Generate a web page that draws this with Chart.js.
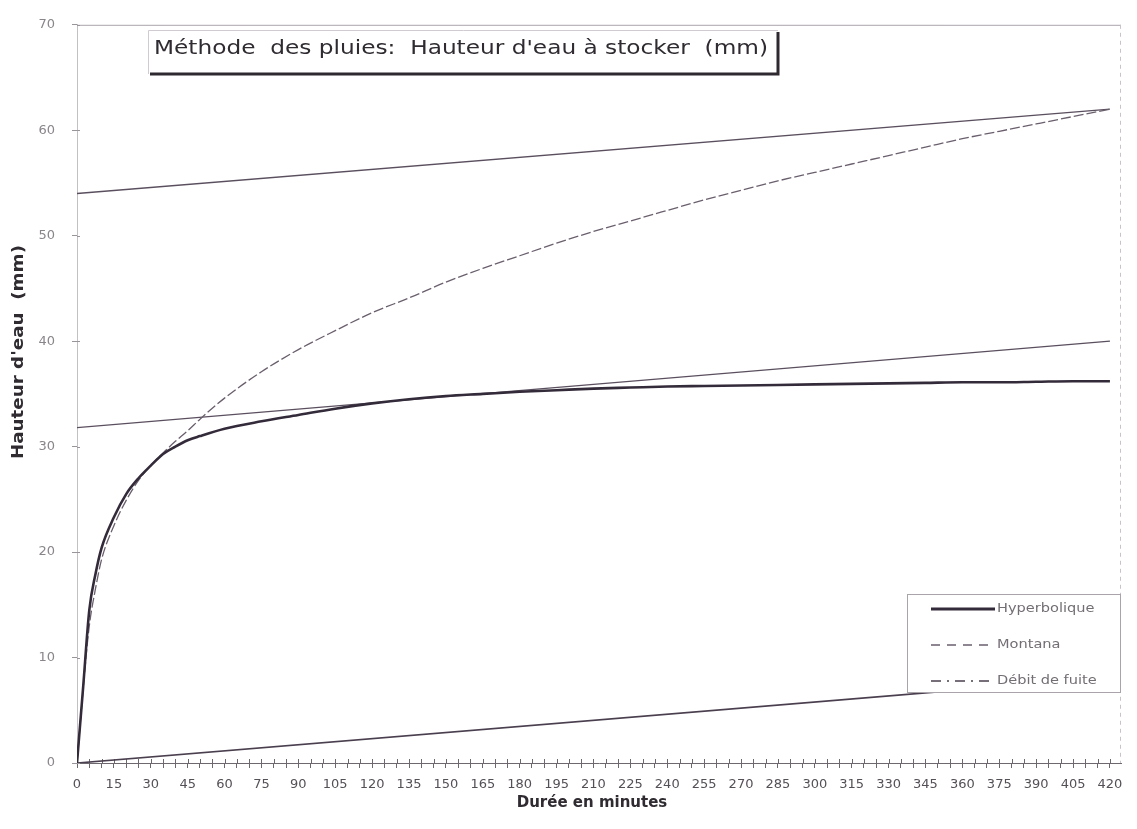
<!DOCTYPE html>
<html>
<head>
<meta charset="utf-8">
<script src="https://cdn.jsdelivr.net/npm/chart.js@4.4.1/dist/chart.umd.min.js"></script>
<style>
  html,body{margin:0;padding:0;background:#fff;}
  #wrap{width:1137px;height:829px;}
</style>
</head>
<body>
<div id="wrap"><canvas id="c" width="1137" height="829"></canvas></div>
<script>
// ---- data ----
const durations = [0,2.5,5,7.5,10,15,20,25,30,35,40,45,50,60,75,90,105,120,135,150,165,180,195,210,225,240,255,270,285,300,315,330,345,360,375,390,405,420];
const hyperbolique = [0,7.2,14.5,17.9,20.4,23.3,25.5,27.0,28.2,29.3,30.0,30.6,31.0,31.7,32.4,33.0,33.6,34.1,34.5,34.8,35.0,35.2,35.35,35.5,35.6,35.7,35.75,35.8,35.85,35.9,35.95,36.0,36.05,36.1,36.1,36.15,36.2,36.2];
const montana = [0,7.0,13.0,16.5,19.3,22.5,24.9,26.8,28.2,29.4,30.5,31.5,32.6,34.6,37.1,39.2,41.0,42.7,44.1,45.6,46.9,48.1,49.3,50.4,51.4,52.4,53.4,54.3,55.2,56.0,56.8,57.6,58.4,59.2,59.9,60.6,61.3,62.0];
const lineX = [0,420];
const debitFuite = [0,8.1];
const tangenteHaute = [54,62];
const tangenteBasse = [31.8,40.0];
const xTickLabels = [0,15,30,45,60,75,90,105,120,135,150,165,180,195,210,225,240,255,270,285,300,315,330,345,360,375,390,405,420];
const yTickLabels = [0,10,20,30,40,50,60,70];
const chartTitle = "Méthode  des pluies:  Hauteur d'eau à stocker  (mm)";
const xTitle = "Durée en minutes";
const yTitle = "Hauteur d'eau  (mm)";

const pts = (xs, ys) => xs.map((x,i)=>({x:x,y:ys[i]}));
const FONT = '"DejaVu Sans", sans-serif';

function fitText(ctx, text, x, y, width){
  const w = ctx.measureText(text).width;
  ctx.save();
  ctx.translate(x, y);
  ctx.scale(width / w, 1);
  ctx.fillText(text, 0, 0);
  ctx.restore();
}

const decor = {
  id:'decor',
  beforeDatasetsDraw(chart){
    const {ctx, chartArea:a} = chart;
    ctx.save();
    ctx.strokeStyle='#aaa4ab'; ctx.lineWidth=1;
    ctx.beginPath(); ctx.moveTo(a.left,a.top+0.5); ctx.lineTo(a.right,a.top+0.5); ctx.stroke();
    ctx.strokeStyle='#c8c3c9'; ctx.setLineDash([4,4]);
    ctx.beginPath(); ctx.moveTo(a.right-0.5,a.top); ctx.lineTo(a.right-0.5,a.bottom); ctx.stroke();
    ctx.setLineDash([]);
    // small tick marks above the x axis (crossing marks)
    const xs = chart.scales.x;
    ctx.strokeStyle='#6d676e'; ctx.lineWidth=1;
    xs.ticks.forEach(t=>{
      const px = Math.round(xs.getPixelForValue(t.value))+0.5;
      ctx.beginPath(); ctx.moveTo(px,a.bottom); ctx.lineTo(px,a.bottom-4); ctx.stroke();
    });
    const ys = chart.scales.y;
    ctx.strokeStyle='#9a959b';
    ys.ticks.forEach(t=>{
      const py = Math.round(ys.getPixelForValue(t.value))+0.5;
      ctx.beginPath(); ctx.moveTo(a.left,py); ctx.lineTo(a.left+3,py); ctx.stroke();
    });
    ctx.restore();
  },
  afterDatasetsDraw(chart){
    const {ctx} = chart;
    ctx.save();
    // title box
    const bx=148, by=30, bw=630, bh=44;
    ctx.fillStyle='#fff'; ctx.fillRect(bx,by,bw,bh);
    ctx.strokeStyle='#d0cbd0'; ctx.lineWidth=1;
    ctx.beginPath(); ctx.moveTo(bx+0.5,by+bh); ctx.lineTo(bx+0.5,by+0.5); ctx.lineTo(bx+bw,by+0.5); ctx.stroke();
    ctx.strokeStyle='#2e2830'; ctx.lineWidth=3;
    ctx.beginPath(); ctx.moveTo(bx+2,by+bh); ctx.lineTo(bx+bw,by+bh); ctx.lineTo(bx+bw,by+2); ctx.stroke();
    ctx.fillStyle='#2f2b31'; ctx.textBaseline='middle'; ctx.textAlign='left';
    ctx.font='20px '+FONT;
    fitText(ctx, chartTitle, bx+6, by+19, 614);
    // legend
    const lx=907, ly=594, lw=213, lh=98;
    ctx.fillStyle='#fff'; ctx.fillRect(lx,ly,lw,lh);
    ctx.strokeStyle='#a9a3aa'; ctx.lineWidth=1; ctx.setLineDash([]);
    ctx.strokeRect(lx+0.5,ly+0.5,lw,lh);
    const items = chart.data.datasets.filter(d=>d.legendDash);
    items.forEach((d,i)=>{
      const y = ly+15+i*36;
      ctx.strokeStyle=d.borderColor; ctx.lineWidth=d.legendWidth;
      ctx.setLineDash(d.legendDash);
      ctx.beginPath(); ctx.moveTo(lx+24,y); ctx.lineTo(lx+88,y); ctx.stroke();
      ctx.setLineDash([]);
      ctx.fillStyle='#736e74'; ctx.font='13px '+FONT; ctx.textBaseline='middle'; ctx.textAlign='left';
      const w = ctx.measureText(d.label).width;
      fitText(ctx, d.label, lx+90, y, w*1.12);
    });
    ctx.restore();
  },
  afterDraw(chart){
    const {ctx} = chart;
    ctx.save();
    ctx.fillStyle='#2f2b31'; ctx.font='bold 15px '+FONT; ctx.textAlign='center'; ctx.textBaseline='middle';
    ctx.fillText(xTitle, 592, 803);
    ctx.translate(19, 352); ctx.rotate(-Math.PI/2);
    ctx.font='bold 16px '+FONT; ctx.textAlign='left';
    fitText(ctx, yTitle, -107, 0, 214);
    ctx.restore();
  }
};

new Chart(document.getElementById('c'), {
  type:'line',
  data:{
    datasets:[
      {label:'Hyperbolique', data:pts(durations,hyperbolique), borderColor:'#342b3a', borderWidth:2.6, cubicInterpolationMode:'monotone', legendDash:[ ], legendWidth:3, order:1},
      {label:'Montana', data:pts(durations,montana), borderColor:'#6a5f6d', borderWidth:1.3, borderDash:[10,3], cubicInterpolationMode:'monotone', legendDash:[9,7], legendWidth:1.5, order:2},
      {label:'Débit de fuite', data:pts(lineX,debitFuite), borderColor:'#4a3f4e', borderWidth:1.7, legendDash:[10,6,2,6], legendWidth:1.5, order:3},
      {label:'tangente haute', data:pts(lineX,tangenteHaute), borderColor:'#5a4f5e', borderWidth:1.4, order:4},
      {label:'tangente basse', data:pts(lineX,tangenteBasse), borderColor:'#5a4f5e', borderWidth:1.3, order:5}
    ]
  },
  options:{
    responsive:false, animation:false,
    layout:{padding:{top:18,right:16,left:0,bottom:0}},
    elements:{point:{radius:0}, line:{fill:false}},
    plugins:{legend:{display:false}, tooltip:{enabled:false}, title:{display:false}},
    scales:{
      x:{type:'linear', min:0, max:424.5,
        afterFit(s){ s.height=66; },
        grid:{drawOnChartArea:false, tickLength:5, color:'#6d676e'},
        border:{color:'#6d676e', width:1},
        ticks:{stepSize:5, includeBounds:false, autoSkip:false, maxRotation:0, padding:9, color:'#555057', font:{family:FONT,size:13},
          callback:(v)=> xTickLabels.includes(v) ? String(v) : ''}
      },
      y:{type:'linear', min:0, max:70,
        afterFit(s){ s.width=77; },
        grid:{drawOnChartArea:false, tickLength:5, color:'#9a959b'},
        border:{color:'#c4bfc5', width:1, dash:[3,4]},
        ticks:{stepSize:10, padding:17, color:'#8a858b', font:{family:FONT,size:13},
          callback:(v)=> yTickLabels.includes(v) ? String(v) : ''}
      }
    }
  },
  plugins:[decor]
});
</script>
</body>
</html>
